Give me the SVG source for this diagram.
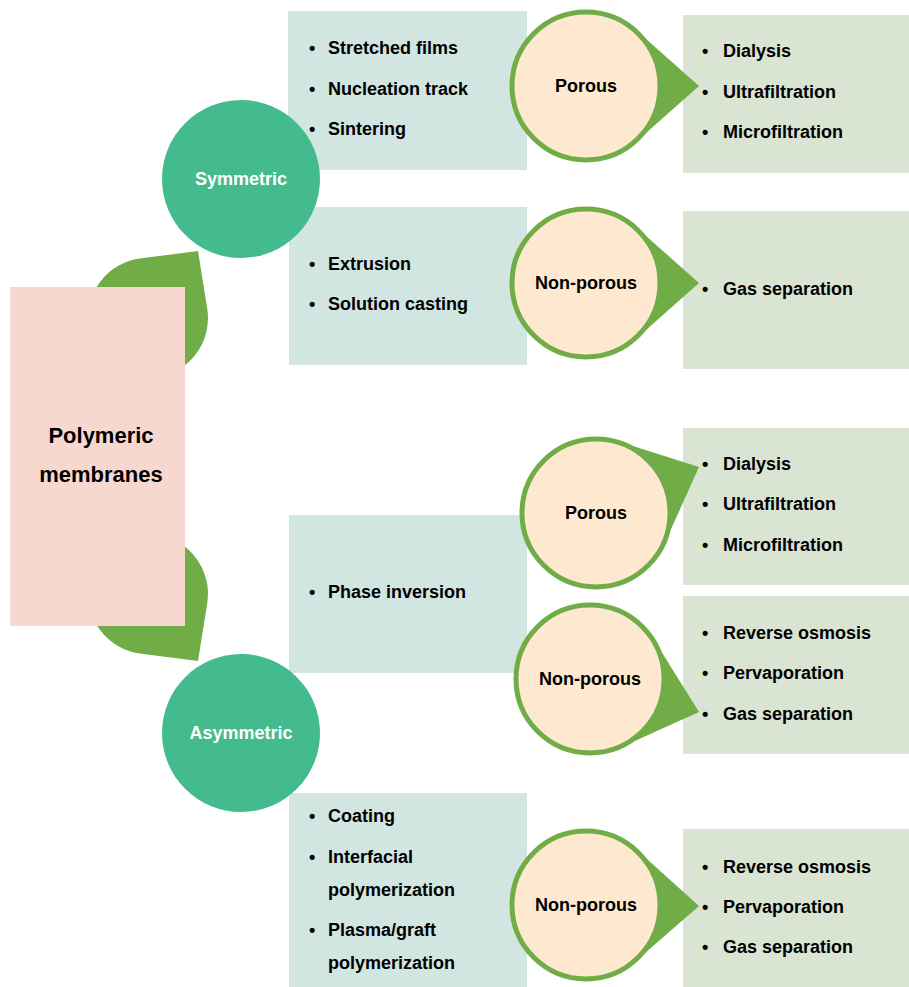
<svg xmlns="http://www.w3.org/2000/svg" width="909" height="987" viewBox="0 0 909 987">
<style>
text{font-family:"Liberation Sans",Arial,sans-serif;font-weight:bold;fill:#000}
.t{font-size:18px}
.c{font-size:18px;text-anchor:middle}
.w{fill:#fff}
.big{font-size:22px;text-anchor:middle}
.box1{fill:#D2E6E1}
.box2{fill:#D9E4D3}
.teal{fill:#44BB8E}
.leaf{fill:#70AD47}
.pc{fill:#FEE9D0;stroke:#70AD47;stroke-width:5}
.wedge{fill:#70AD47}
</style>
<g id="connectors">
<path class="leaf" d="M198,251 L207.4,309.6 A60,60 0 1 1 139.6,258.6 Z"/>
<path class="leaf" d="M198,661 L139.6,653.4 A60,60 0 1 1 207.4,602.4 Z"/>
</g>
<g id="root">
<rect x="10" y="287" width="175" height="339" fill="#F7D8CE"/>
<text class="big" x="101" y="443">Polymeric</text>
<text class="big" x="101" y="482">membranes</text>
</g>
<g id="box-sym-porous">
<rect class="box1" x="288" y="11" width="239" height="159"/>
<text class="t"><tspan x="309" y="54">•</tspan><tspan x="328">Stretched films</tspan></text>
<text class="t"><tspan x="309" y="95">•</tspan><tspan x="328">Nucleation track</tspan></text>
<text class="t"><tspan x="309" y="135">•</tspan><tspan x="328">Sintering</tspan></text>
</g>
<g id="box-sym-nonporous">
<rect class="box1" x="289" y="207" width="238" height="158"/>
<text class="t"><tspan x="309" y="270">•</tspan><tspan x="328">Extrusion</tspan></text>
<text class="t"><tspan x="309" y="310">•</tspan><tspan x="328">Solution casting</tspan></text>
</g>
<g id="box-asym-phase">
<rect class="box1" x="289" y="515" width="238" height="158"/>
<text class="t"><tspan x="309" y="598">•</tspan><tspan x="328">Phase inversion</tspan></text>
</g>
<g id="box-asym-composite">
<rect class="box1" x="289" y="793" width="238" height="194"/>
<text class="t"><tspan x="309" y="822">•</tspan><tspan x="328">Coating</tspan></text>
<text class="t"><tspan x="309" y="863">•</tspan><tspan x="328">Interfacial</tspan></text>
<text class="t" x="328" y="896">polymerization</text>
<text class="t"><tspan x="309" y="936">•</tspan><tspan x="328">Plasma/graft</tspan></text>
<text class="t" x="328" y="969">polymerization</text>
</g>
<g id="app-1">
<rect class="box2" x="683" y="15" width="226" height="158"/>
<text class="t"><tspan x="702" y="57">•</tspan><tspan x="723">Dialysis</tspan></text>
<text class="t"><tspan x="702" y="98">•</tspan><tspan x="723">Ultrafiltration</tspan></text>
<text class="t"><tspan x="702" y="138">•</tspan><tspan x="723">Microfiltration</tspan></text>
</g>
<g id="app-2">
<rect class="box2" x="683" y="211" width="226" height="158"/>
<text class="t"><tspan x="702" y="295">•</tspan><tspan x="723">Gas separation</tspan></text>
</g>
<g id="app-3">
<rect class="box2" x="683" y="428" width="226" height="157"/>
<text class="t"><tspan x="702" y="470">•</tspan><tspan x="723">Dialysis</tspan></text>
<text class="t"><tspan x="702" y="510">•</tspan><tspan x="723">Ultrafiltration</tspan></text>
<text class="t"><tspan x="702" y="551">•</tspan><tspan x="723">Microfiltration</tspan></text>
</g>
<g id="app-4">
<rect class="box2" x="683" y="596" width="226" height="158"/>
<text class="t"><tspan x="702" y="639">•</tspan><tspan x="723">Reverse osmosis</tspan></text>
<text class="t"><tspan x="702" y="679">•</tspan><tspan x="723">Pervaporation</tspan></text>
<text class="t"><tspan x="702" y="720">•</tspan><tspan x="723">Gas separation</tspan></text>
</g>
<g id="app-5">
<rect class="box2" x="683" y="829" width="226" height="158"/>
<text class="t"><tspan x="702" y="873">•</tspan><tspan x="723">Reverse osmosis</tspan></text>
<text class="t"><tspan x="702" y="913">•</tspan><tspan x="723">Pervaporation</tspan></text>
<text class="t"><tspan x="702" y="953">•</tspan><tspan x="723">Gas separation</tspan></text>
</g>
<g id="symmetric">
<circle class="teal" cx="241" cy="179" r="79"/>
<text class="c w" x="241" y="185">Symmetric</text>
</g>
<g id="asymmetric">
<circle class="teal" cx="241" cy="733" r="79"/>
<text class="c w" x="241" y="739">Asymmetric</text>
</g>
<g id="porous-1">
<polygon class="wedge" points="699,86 635.8,29.9 586,86 635.8,142.1"/>
<circle class="pc" cx="586" cy="86" r="74"/>
<text class="c" x="586" y="92">Porous</text>
</g>
<g id="nonporous-1">
<polygon class="wedge" points="699,283 635.8,226.9 586,283 635.8,339.1"/>
<circle class="pc" cx="586" cy="283" r="74"/>
<text class="c" x="586" y="289">Non-porous</text>
</g>
<g id="porous-2">
<polygon class="wedge" points="699,467 618.7,441.5 596,513 664.4,543.8"/>
<circle class="pc" cx="596" cy="513" r="74"/>
<text class="c" x="596" y="519">Porous</text>
</g>
<g id="nonporous-2">
<polygon class="wedge" points="699,712 653.6,639.3 590,679 620.9,747.3"/>
<circle class="pc" cx="590" cy="679" r="74"/>
<text class="c" x="590" y="685">Non-porous</text>
</g>
<g id="nonporous-3">
<polygon class="wedge" points="699,906 635.8,848.9 586,905 635.8,961.1"/>
<circle class="pc" cx="586" cy="905" r="74"/>
<text class="c" x="586" y="911">Non-porous</text>
</g>
</svg>
